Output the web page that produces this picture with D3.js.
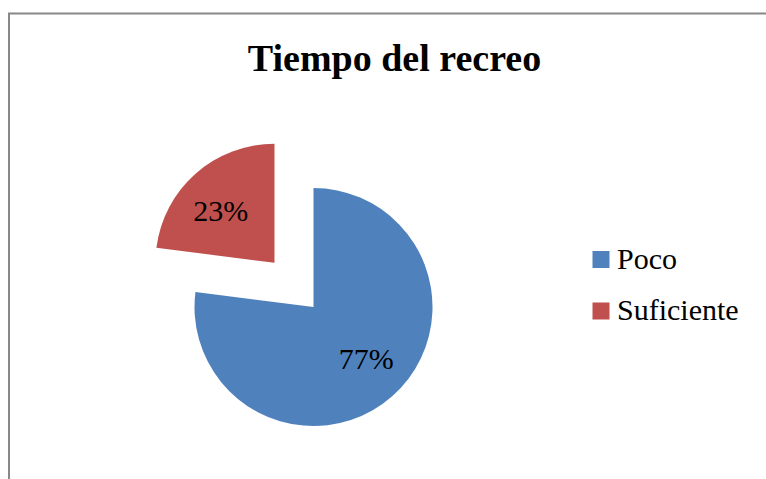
<!DOCTYPE html>
<html>
<head>
    <meta charset="utf-8">
    <title>Tiempo del recreo</title>
    <script src="https://d3js.org/d3.v7.min.js"></script>
    <style>
        body {
            margin: 0;
            background-color: #fff;
        }
    </style>
</head>
<body>
    <svg width="766" height="479"></svg>

    <script>
        // Chart data
        var categories = ["Poco", "Suficiente"];
        var values = [77, 23];
        var colors = ["#4F81BD", "#C0504D"];

        var width = 766,
            height = 479;

        var serif = "'Liberation Serif', 'Times New Roman', Tinos, 'DejaVu Serif', serif";

        var svg = d3.select("svg");

        // Chart frame (runs off the right and bottom edge)
        svg.append("rect")
            .attr("x", 9)
            .attr("y", 13.5)
            .attr("width", 800)
            .attr("height", 500)
            .attr("fill", "none")
            .attr("stroke", "#888")
            .attr("stroke-width", 2);

        // Title
        svg.append("text")
            .attr("x", 394.5)
            .attr("y", 70.5)
            .attr("text-anchor", "middle")
            .style("font-family", serif)
            .style("font-size", "38px")
            .style("font-weight", "bold")
            .text("Tiempo del recreo");

        var cx = 313.5,
            cy = 307,
            radius = 119,
            explode = 59; // offset of the pulled-out slice

        var color = d3.scaleOrdinal().domain(categories).range(colors);

        var pie = d3.pie()
            .sort(null)
            .value(function(d) { return d.value; });

        var data = categories.map(function(c, i) {
            return { name: c, value: values[i] };
        });

        var arcs = pie(data);

        var arc = d3.arc().innerRadius(0).outerRadius(radius);
        var labelArc = d3.arc().innerRadius(radius * 0.62).outerRadius(radius * 0.62);

        var total = d3.sum(values);

        var pieGroup = svg.append("g")
            .attr("transform", "translate(" + cx + "," + cy + ")");

        var slice = pieGroup.selectAll(".slice")
            .data(arcs)
            .enter().append("g")
            .attr("class", "slice")
            .attr("transform", function(d) {
                // only the second slice (Suficiente) is exploded
                if (d.index !== 1) return null;
                var mid = (d.startAngle + d.endAngle) / 2;
                return "translate(" + (explode * Math.sin(mid)) + "," + (-explode * Math.cos(mid)) + ")";
            });

        slice.append("path")
            .attr("d", arc)
            .attr("fill", function(d) { return color(d.data.name); });

        slice.append("text")
            .attr("transform", function(d) {
                var p = labelArc.centroid(d);
                // nudge the small slice label a bit outward-left like the original
                if (d.index === 1) { p[0] -= 5; p[1] += 3; }
                else { p[0] += 4; p[1] -= 4; }
                return "translate(" + p[0] + "," + p[1] + ")";
            })
            .attr("text-anchor", "middle")
            .attr("dy", "0.35em")
            .style("font-family", serif)
            .style("font-size", "30px")
            .text(function(d) { return Math.round(d.data.value / total * 100) + "%"; });

        // Legend
        var legend = svg.append("g")
            .attr("transform", "translate(592.5,251)");

        var item = legend.selectAll("g")
            .data(categories)
            .enter().append("g")
            .attr("transform", function(d, i) { return "translate(0," + (i * 51.5) + ")"; });

        item.append("rect")
            .attr("width", 17)
            .attr("height", 17)
            .attr("fill", function(d) { return color(d); });

        item.append("text")
            .attr("x", 24.5)
            .attr("y", 17.5)
            .style("font-family", serif)
            .style("font-size", "30px")
            .text(function(d) { return d; });
    </script>
</body>
</html>
